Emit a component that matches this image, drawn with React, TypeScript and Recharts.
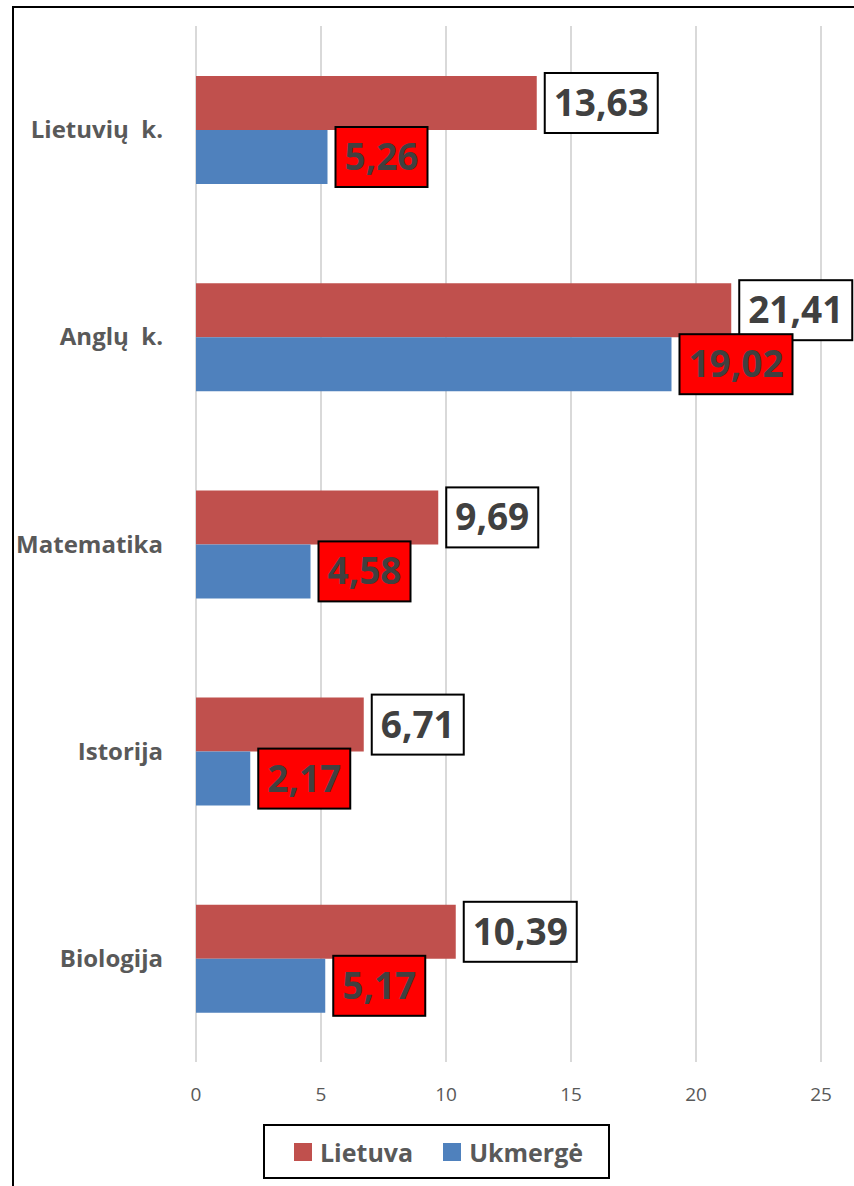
import React from 'react'
import { BarChart, Bar, XAxis, YAxis, CartesianGrid, Legend, LabelList } from 'recharts'

const SUBJECTS = ['Lietuvių\u00A0 k.', 'Anglų\u00A0 k.', 'Matematika', 'Istorija', 'Biologija']
const LIETUVA = [13.63, 21.41, 9.69, 6.71, 10.39]
const UKMERGE = [5.26, 19.02, 4.58, 2.17, 5.17]
const X_TICKS = [0, 5, 10, 15, 20, 25]

const RED = '#C0504D'
const BLUE = '#4F81BD'
const TEXT = '#595959'
const FONT = '"Open Sans", sans-serif'

const data = SUBJECTS.map((name, i) => ({ name, lietuva: LIETUVA[i], ukmerge: UKMERGE[i] }))

const fmt = (v: number) => v.toFixed(2).replace('.', ',')

const boxLabel = (fill: string) => (props: any) => {
  const x = Number(props.x)
  const y = Number(props.y)
  const width = Number(props.width)
  const height = Number(props.height)
  const text = fmt(Number(props.value))
  const w = 21 * text.length + 8
  const bx = x + width + 8
  const cy = y + height / 2
  return (
    <g>
      <rect x={bx} y={cy - 30} width={w} height={60} fill={fill} stroke="#000" strokeWidth={2} />
      <text x={bx + w / 2} y={cy + 13} textAnchor="middle" fontSize={37} fontWeight={700}
        fontFamily={FONT} fill="#404040">{text}</text>
    </g>
  )
}

function LegendBox() {
  const item = (color: string, label: string, ml: number) => (
    <div style={{ display: 'flex', alignItems: 'center', marginLeft: ml }}>
      <span style={{ width: 18, height: 18, background: color, marginRight: 8 }} />
      <span style={{ fontSize: 25, fontWeight: 700, color: TEXT, fontFamily: FONT }}>{label}</span>
    </div>
  )
  return (
    <div style={{
      width: 343, height: 51, border: '2px solid #000', background: '#fff',
      display: 'flex', alignItems: 'center',
    }}>
      {item(RED, 'Lietuva', 29)}
      {item(BLUE, 'Ukmergė', 30)}
    </div>
  )
}

export default function App() {
  return (
    <div style={{ position: 'absolute', left: 0, top: 0, width: 854, height: 1186, overflow: 'hidden', background: '#fff', fontFamily: FONT }}>
      <div style={{ position: 'absolute', left: 12, top: 6, width: 1000, height: 1400, borderLeft: '2px solid #000', borderTop: '2px solid #000' }} />
      <div style={{ position: 'absolute', left: 0, top: 0 }}>
        <BarChart width={854} height={1186} data={data} layout="vertical" barSize={54} barGap={0}
          margin={{ top: 26, right: 33, bottom: 64, left: 0 }}>
          <CartesianGrid horizontal={false} stroke="#d9d9d9" strokeWidth={2} />
          <XAxis type="number" domain={[0, 25]} ticks={X_TICKS} axisLine={false} tickLine={false}
            height={60} tickMargin={20}
            tick={{ fontSize: 19, fill: TEXT, fontFamily: FONT }} />
          <YAxis type="category" dataKey="name" width={196} axisLine={false} tickLine={false}
            tickSize={0} tickMargin={33}
            tick={{ fontSize: 24, fontWeight: 700, fill: TEXT, fontFamily: FONT }} />
          <Legend layout="horizontal" verticalAlign="middle" align="center"
            wrapperStyle={{ left: 263, top: 1124, width: 347 }}
            content={() => <LegendBox />} />
          <Bar dataKey="lietuva" name="Lietuva" fill={RED} isAnimationActive={false}>
            <LabelList dataKey="lietuva" content={boxLabel('#ffffff')} />
          </Bar>
          <Bar dataKey="ukmerge" name="Ukmergė" fill={BLUE} isAnimationActive={false}>
            <LabelList dataKey="ukmerge" content={boxLabel('#ff0000')} />
          </Bar>
        </BarChart>
      </div>
    </div>
  )
}
